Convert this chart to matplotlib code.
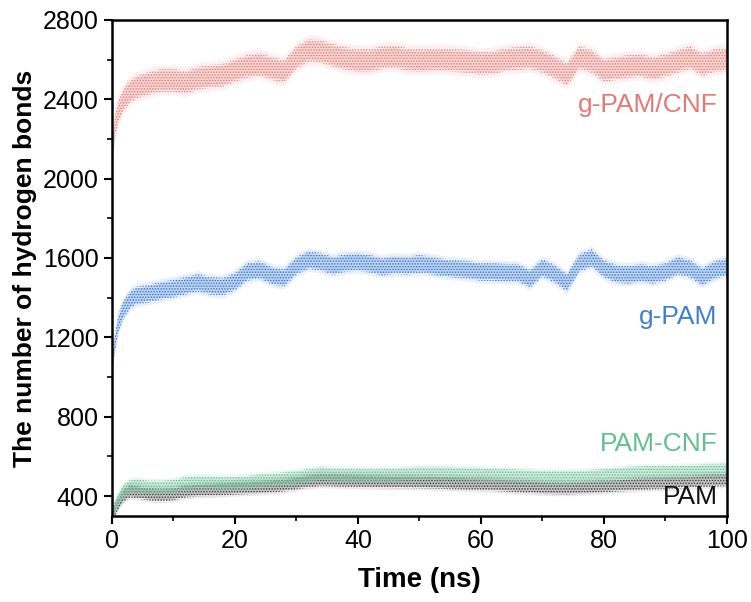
import numpy as np
import matplotlib
matplotlib.use("Agg")
import matplotlib.pyplot as plt
from matplotlib.ticker import MultipleLocator

# --- data (band centre, number of H-bonds) ---
time_ns = [0, 0.5, 1, 1.5, 2, 3, 4] + list(range(6, 101, 2))

g_pam_cnf = [2100, 2260, 2330, 2370, 2400, 2440, 2460,
             2480, 2495, 2495, 2485, 2505, 2515, 2520, 2545, 2565, 2575,
             2555, 2540, 2610, 2645, 2640, 2620, 2605, 2595, 2595, 2610,
             2615, 2600, 2595, 2600, 2600, 2595, 2590, 2580, 2585, 2600,
             2605, 2610, 2590, 2560, 2525, 2610, 2590, 2545, 2555, 2565,
             2570, 2555, 2570, 2590, 2610, 2575, 2595, 2600]
g_pam = [1050, 1170, 1260, 1310, 1345, 1390, 1410,
         1420, 1435, 1445, 1460, 1475, 1460, 1455, 1480, 1530, 1540,
         1510, 1500, 1560, 1590, 1580, 1560, 1575, 1580, 1570, 1555,
         1565, 1560, 1570, 1560, 1550, 1545, 1540, 1530, 1530, 1525,
         1525, 1495, 1550, 1520, 1475, 1575, 1600, 1545, 1520, 1515,
         1525, 1515, 1530, 1560, 1545, 1505, 1540, 1555]
pam_cnf = [310, 350, 380, 410, 430, 450, 455,
           445, 445, 450, 465, 470, 470, 465, 468, 470, 478,
           482, 488, 495, 505, 515, 510, 508, 508, 507, 508,
           508, 512, 515, 515, 515, 513, 512, 510, 508, 505,
           502, 500, 497, 495, 495, 497, 500, 505, 510, 515,
           518, 520, 520, 522, 525, 528, 530, 532]
pam = [300, 330, 360, 385, 405, 425, 420,
       410, 405, 410, 425, 430, 432, 435, 440, 442, 445,
       450, 455, 465, 475, 482, 480, 478, 476, 474, 473,
       472, 472, 471, 470, 468, 465, 462, 460, 458, 455,
       450, 447, 443, 442, 441, 443, 446, 450, 455, 458,
       462, 465, 467, 470, 473, 476, 480, 482]

# half-width of the scattered band
spread = {"g-PAM/CNF": 45, "g-PAM": 35, "PAM-CNF": 25, "PAM": 25}
colors = {"g-PAM/CNF": "#e27a74", "g-PAM": "#2f74d0",
          "PAM-CNF": "#62bf8f", "PAM": "#3a3a3a"}
label_colors = {"g-PAM/CNF": "#e27a74", "g-PAM": "#3f80cc",
                "PAM-CNF": "#62bf8f", "PAM": "#111111"}
# label anchor (t, value), right aligned
label_pos = {"g-PAM/CNF": (98.5, 2370), "g-PAM": (98.5, 1300),
             "PAM-CNF": (98.5, 660), "PAM": (98.5, 396)}

series = [("PAM", pam), ("PAM-CNF", pam_cnf), ("g-PAM", g_pam), ("g-PAM/CNF", g_pam_cnf)]

plt.rcParams['font.family'] = ['Liberation Sans', 'DejaVu Sans']
plt.rcParams['hatch.linewidth'] = 0.7

fig = plt.figure(figsize=(7.51, 6.02), dpi=100)
ax = fig.add_axes([0.149, 0.143, 0.819, 0.824])

t = np.array(time_ns, dtype=float)
for name, vals in series:
    v = np.array(vals, dtype=float)
    c = colors[name]
    s = spread[name]
    # fuzzy outer edge, denser core, dotted texture
    ax.fill_between(t, v - 1.7 * s, v + 1.7 * s, facecolor=c, alpha=0.10, lw=0)
    ax.fill_between(t, v - s, v + s, facecolor=c, alpha=0.22, lw=0)
    ax.fill_between(t, v - 1.3 * s, v + 1.3 * s, facecolor='none', edgecolor=c,
                    hatch='......', lw=0)
    lx, ly = label_pos[name]
    ax.text(lx, ly, name, color=label_colors[name], fontsize=19, ha='right', va='center')

ax.set_xlim(0, 100)
ax.set_ylim(300, 2800)
ax.xaxis.set_major_locator(MultipleLocator(20))
ax.xaxis.set_minor_locator(MultipleLocator(10))
ax.yaxis.set_major_locator(MultipleLocator(400))
ax.yaxis.set_minor_locator(MultipleLocator(200))
ax.tick_params(which='major', direction='out', length=6, width=1.5, labelsize=18)
ax.tick_params(which='minor', direction='out', length=3.5, width=1.2)
for sp in ax.spines.values():
    sp.set_linewidth(1.8)

ax.set_xlabel("Time (ns)", fontsize=20, fontweight='bold', labelpad=10)
ax.set_ylabel("The number of hydrogen bonds", fontsize=19, fontweight='bold', labelpad=4)

fig.savefig("out.png", dpi=100)
